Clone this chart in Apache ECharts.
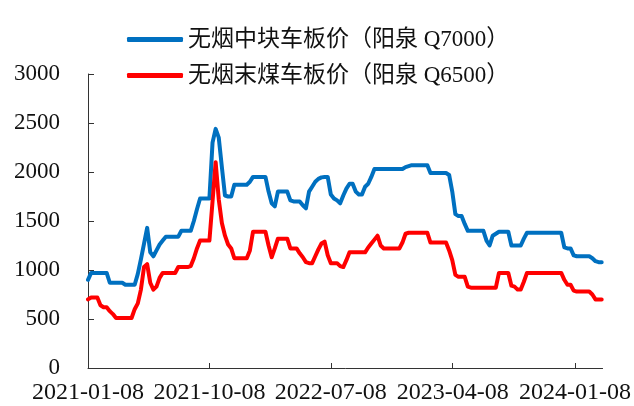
<!DOCTYPE html>
<html>
<head>
<meta charset="utf-8">
<script src="https://cdn.jsdelivr.net/npm/echarts@6/dist/echarts.min.js"></script>
<style>
  html, body { margin: 0; padding: 0; background: #fff; }
  #chart { width: 634px; height: 406px; }
</style>
</head>
<body>
<div id="chart"></div>
<script>
// Weekly price series (yuan/ton), one value per Friday starting at firstWeek
const firstWeek = '2021-01-08';
const seriesNames = ['无烟中块车板价（阳泉 Q7000）', '无烟末煤车板价（阳泉 Q6500）'];
const tickDates = ['2021-01-08', '2021-10-08', '2022-07-08', '2023-04-08', '2024-01-08'];
const yTicks = [0, 500, 1000, 1500, 2000, 2500, 3000];

const lumpPrice = [
  900, 970, 970, 970, 970, 970, 970, 870, 870, 870,
  870, 870, 850, 850, 850, 850, 960, 1110, 1270, 1430,
  1180, 1140, 1200, 1260, 1300, 1340, 1340, 1340, 1340, 1340,
  1400, 1400, 1400, 1400, 1500, 1620, 1730, 1730, 1730, 1730,
  2300, 2440, 2350, 2050, 1760, 1750, 1750, 1870, 1870, 1870,
  1870, 1870, 1900, 1950, 1950, 1950, 1950, 1950, 1800, 1680,
  1650, 1800, 1800, 1800, 1800, 1710, 1700, 1700, 1700, 1660,
  1630, 1800, 1850, 1900, 1930, 1945, 1950, 1950, 1770, 1730,
  1710, 1680, 1760, 1830, 1880, 1880, 1800, 1770, 1770, 1850,
  1880, 1950, 2030, 2030, 2030, 2030, 2030, 2030, 2030, 2030,
  2030, 2030, 2050, 2060, 2070, 2070, 2070, 2070, 2070, 2070,
  1990, 1990, 1990, 1990, 1990, 1990, 1970, 1800, 1570, 1550,
  1550, 1470, 1400, 1400, 1400, 1400, 1400, 1400, 1300, 1250,
  1350, 1370, 1390, 1390, 1390, 1390, 1250, 1250, 1250, 1250,
  1320, 1380, 1380, 1380, 1380, 1380, 1380, 1380, 1380, 1380,
  1380, 1380, 1380, 1230, 1220, 1220, 1150, 1140, 1140, 1140,
  1140, 1140, 1120, 1090, 1080, 1080
];

const finesPrice = [
  700, 720, 720, 720, 640, 620, 620, 580, 550, 510,
  510, 510, 510, 510, 510, 600, 660, 800, 1030, 1060,
  870, 800, 830, 920, 970, 970, 970, 970, 970, 1030,
  1030, 1030, 1030, 1040, 1120, 1220, 1300, 1300, 1300, 1300,
  1700, 2100, 1720, 1480, 1350, 1260, 1220, 1120, 1120, 1120,
  1120, 1120, 1200, 1390, 1390, 1390, 1390, 1390, 1250, 1130,
  1220, 1320, 1320, 1320, 1320, 1220, 1220, 1220, 1170, 1130,
  1080, 1070, 1070, 1140, 1210, 1270, 1290, 1150, 1070, 1070,
  1070, 1040, 1030, 1100, 1180, 1180, 1180, 1180, 1180, 1180,
  1230, 1270, 1310, 1350, 1250, 1220, 1220, 1220, 1220, 1220,
  1220, 1280, 1370, 1380, 1380, 1380, 1380, 1380, 1380, 1380,
  1280, 1280, 1280, 1280, 1280, 1280, 1200, 1100, 950, 930,
  930, 930, 830, 820, 820, 820, 820, 820, 820, 820,
  820, 820, 970, 970, 970, 970, 840, 830, 800, 800,
  880, 970, 970, 970, 970, 970, 970, 970, 970, 970,
  970, 970, 970, 900, 850, 850, 790, 780, 780, 780,
  780, 780, 750, 700, 700, 700
];

const DAY = 24 * 3600 * 1000;
function toTime(s) { return new Date(s + 'T00:00:00').getTime(); }
function pad(n) { return (n < 10 ? '0' : '') + n; }
function fmt(t) {
  const d = new Date(t);
  return d.getFullYear() + '-' + pad(d.getMonth() + 1) + '-' + pad(d.getDate());
}

const start = toTime(firstWeek);
const weekTimes = lumpPrice.map((_, i) => start + i * 7 * DAY);
const lumpData = lumpPrice.map((v, i) => [weekTimes[i], v]);
const finesData = finesPrice.map((v, i) => [weekTimes[i], v]);
const tickTimes = tickDates.map(toTime);

const latin = '"Liberation Serif", "Times New Roman", "Noto Sans CJK SC", serif';
const axisColor = '#333';

const chart = echarts.init(document.getElementById('chart'), null, { renderer: 'canvas' });
chart.setOption({
  animation: false,
  backgroundColor: '#fff',
  color: ['#0070C0', '#FF0000'],
  grid: { left: 88, right: 30, top: 74, bottom: 38, containLabel: false },
  legend: {
    orient: 'vertical',
    left: 122,
    top: 23,
    itemWidth: 56,
    itemHeight: 5,
    itemGap: 13,
    icon: 'roundRect',
    data: seriesNames,
    textStyle: { fontFamily: latin, fontSize: 23, color: '#111' }
  },
  xAxis: {
    type: 'value',
    min: start,
    max: weekTimes[weekTimes.length - 1] + 2 * DAY,
    splitLine: { show: false },
    axisLine: { show: true, onZero: false, lineStyle: { color: axisColor, width: 1 } },
    axisTick: { show: true, inside: true, length: 5, customValues: tickTimes, lineStyle: { color: axisColor } },
    axisLabel: {
      customValues: tickTimes,
      formatter: (v) => fmt(v),
      fontFamily: latin,
      fontSize: 24,
      color: '#111',
      margin: 13
    }
  },
  yAxis: {
    type: 'value',
    min: yTicks[0],
    max: yTicks[yTicks.length - 1],
    interval: 500,
    splitLine: { show: false },
    axisLine: { show: true, lineStyle: { color: axisColor, width: 1 } },
    axisTick: { show: true, inside: true, length: 6, lineStyle: { color: axisColor } },
    axisLabel: {
      formatter: (v) => String(v),
      fontFamily: latin,
      fontSize: 23,
      color: '#111',
      margin: 28
    }
  },
  series: [
    {
      name: seriesNames[0],
      type: 'line',
      data: lumpData,
      symbol: 'none',
      lineStyle: { width: 4, cap: 'round', join: 'round' }
    },
    {
      name: seriesNames[1],
      type: 'line',
      data: finesData,
      symbol: 'none',
      lineStyle: { width: 4, cap: 'round', join: 'round' }
    }
  ]
});
</script>
</body>
</html>
